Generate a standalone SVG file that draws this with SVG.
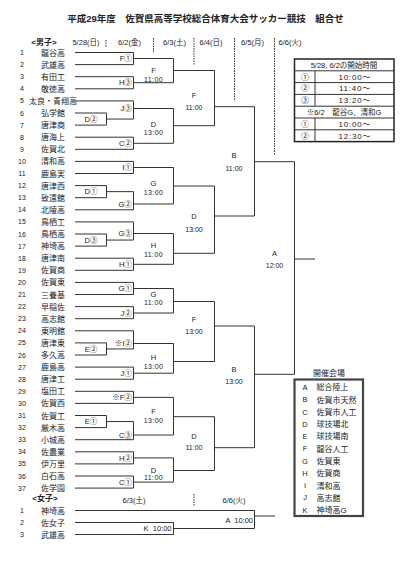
<svg xmlns="http://www.w3.org/2000/svg" width="405" height="565" viewBox="0 0 405 565">
<style>
text{font-family:"Liberation Sans","Noto Sans CJK JP",sans-serif;fill:#222}
.num{font-size:7px;text-anchor:middle}
.nm{font-size:8px;text-anchor:middle}
.hd{font-size:7.5px;text-anchor:middle}
.bold{font-weight:bold}
.l1{font-size:7.5px;text-anchor:middle}
.l2{font-size:7.5px;text-anchor:end}
.lc{font-size:7.5px;text-anchor:middle}
.tm{font-size:7px;text-anchor:middle}
.tm3{font-size:7px;text-anchor:middle;letter-spacing:0.4px}
.ln{stroke:#333;stroke-width:1;fill:none}
.dash{stroke:#333;stroke-width:1;stroke-dasharray:1.5 1;fill:none}
.tb{font-size:8px;text-anchor:middle}
.tt{font-size:8px;text-anchor:middle;letter-spacing:0.8px}
.lg{font-size:8px}
.lgl{font-size:7.5px;text-anchor:middle}
</style>
<rect width="405" height="565" fill="#fff"/>
<text class="bold" x="205.5" y="21.5" font-size="9.5" text-anchor="middle">平成29年度　佐賀県高等学校総合体育大会サッカー競技　組合せ</text>
<g id="headers">
<text class="nm bold" x="44" y="45">&lt;男子&gt;</text>
<text class="hd" x="86" y="44.5">5/28(日)</text>
<text class="hd" x="129.5" y="44.5">6/2(金)</text>
<text class="hd" x="174.5" y="44.5">6/3(土)</text>
<text class="hd" x="211" y="44.5">6/4(日)</text>
<text class="hd" x="252.5" y="44.5">6/5(月)</text>
<text class="hd" x="290" y="44.5">6/6(火)</text>
<text class="nm bold" x="45" y="501">&lt;女子&gt;</text>
<text class="hd" x="134" y="502.5">6/3(土)</text>
<text class="hd" x="234" y="502.5">6/6(火)</text>
</g>
<g id="separators">
<path class="dash" d="M106 40V47 M153.5 38V53 M194 38V65 M234.5 38V101 M274.5 38V155 M194 494V506"/>
</g>
<g id="connectors" class="ln">
<path d="M75 52.5H133.5 M75 64.6H133.5 M75 76.7H133.5 M75 88.8H133.5 M75 100.9H133.5 M75 113H106.5 M75 125.1H106.5 M75 137.2H133.5 M75 149.3H133.5 M75 161.4H133.5 M75 173.5H133.5 M75 185.6H106.5 M75 197.7H106.5 M75 209.8H133.5 M75 221.9H133.5 M75 234H106.5 M75 246.1H106.5 M75 258.2H133.5 M75 270.3H133.5 M75 282.4H133.5 M75 294.5H133.5 M75 306.6H133.5 M75 318.7H133.5 M75 330.8H133.5 M75 342.9H106.5 M75 355H106.5 M75 367.1H133.5 M75 379.2H133.5 M75 391.3H133.5 M75 403.4H133.5 M75 415.5H106.5 M75 427.6H106.5 M75 439.7H133.5 M75 451.8H133.5 M75 463.9H133.5 M75 476H133.5 M75 488.1H133.5"/>
<path d="M106.5 113V125.1 M106.5 119.05H133.5 M106.5 185.6V197.7 M106.5 191.65H133.5 M106.5 234V246.1 M106.5 240.05H133.5 M106.5 342.9V355 M106.5 348.95H133.5 M106.5 415.5V427.6 M106.5 421.55H133.5"/>
<path d="M133.5 52.5V64.6 M133.5 58.5H173.5 M133.5 76.7V88.8 M133.5 82.7H173.5 M133.5 100.9V119.05 M133.5 108.5H173.5 M133.5 137.2V149.3 M133.5 143.3H173.5 M133.5 161.4V173.5 M133.5 167.5H173.5 M133.5 191.65V209.8 M133.5 204H173.5 M133.5 221.9V240.05 M133.5 233.5H173.5 M133.5 258.2V270.3 M133.5 264.3H173.5 M133.5 282.4V294.5 M133.5 288.5H173.5 M133.5 306.6V318.7 M133.5 313H173.5 M133.5 330.8V348.95 M133.5 343.5H173.5 M133.5 367.1V379.2 M133.5 373.2H173.5 M133.5 391.3V403.4 M133.5 397.4H173.5 M133.5 421.55V439.7 M133.5 435H173.5 M133.5 451.8V463.9 M133.5 457.9H173.5 M133.5 476V488.1 M133.5 482.1H173.5"/>
<path d="M173.5 58.5V82.7 M173.5 70.5H214.5 M173.5 108.5V143.3 M173.5 125.7H214.5 M173.5 167.5V204 M173.5 186H214.5 M173.5 233.5V264.3 M173.5 253.3H214.5 M173.5 288.5V313 M173.5 301.5H214.5 M173.5 343.5V373.2 M173.5 361.5H214.5 M173.5 397.4V435 M173.5 416.7H214.5 M173.5 457.9V482.1 M173.5 470.5H214.5"/>
<path d="M214.5 70.5V125.7 M214.5 106.7H254.5 M214.5 186V253.3 M214.5 216H254.5 M214.5 301.5V361.5 M214.5 326H254.5 M214.5 416.7V470.5 M214.5 447.7H254.5"/>
<path d="M254.5 106.7V216 M254.5 161.7H294.5 M254.5 326V447.7 M254.5 374.3H294.5 M294.5 161.7V374.3 M294.5 259H315"/>
<path d="M75 510.5H254.5 M75 522.5H173.5 M75 534.5H173.5 M173.5 522.5V534.5 M173.5 528.5H254.5 M254.5 510.5V528.5 M254.5 516H275"/>
</g>
<g id="teams">
<g id="m1" transform="translate(0,52.5)"><text class="num" x="22" y="2.5">1</text><text class="nm" x="53" y="3">龍谷高</text></g>
<g id="m2" transform="translate(0,64.6)"><text class="num" x="22" y="2.5">2</text><text class="nm" x="53" y="3">武雄高</text></g>
<g id="m3" transform="translate(0,76.7)"><text class="num" x="22" y="2.5">3</text><text class="nm" x="53" y="3">有田工</text></g>
<g id="m4" transform="translate(0,88.8)"><text class="num" x="22" y="2.5">4</text><text class="nm" x="53" y="3">敬徳高</text></g>
<g id="m5" transform="translate(0,100.9)"><text class="num" x="22" y="2.5">5</text><text class="nm" x="53" y="3" font-size="7.3">太良・青翔高</text></g>
<g id="m6" transform="translate(0,113)"><text class="num" x="22" y="2.5">6</text><text class="nm" x="53" y="3">弘学館</text></g>
<g id="m7" transform="translate(0,125.1)"><text class="num" x="22" y="2.5">7</text><text class="nm" x="53" y="3">唐津商</text></g>
<g id="m8" transform="translate(0,137.2)"><text class="num" x="22" y="2.5">8</text><text class="nm" x="53" y="3">唐海上</text></g>
<g id="m9" transform="translate(0,149.3)"><text class="num" x="22" y="2.5">9</text><text class="nm" x="53" y="3">佐賀北</text></g>
<g id="m10" transform="translate(0,161.4)"><text class="num" x="22" y="2.5">10</text><text class="nm" x="53" y="3">清和高</text></g>
<g id="m11" transform="translate(0,173.5)"><text class="num" x="22" y="2.5">11</text><text class="nm" x="53" y="3">鹿島実</text></g>
<g id="m12" transform="translate(0,185.6)"><text class="num" x="22" y="2.5">12</text><text class="nm" x="53" y="3">唐津西</text></g>
<g id="m13" transform="translate(0,197.7)"><text class="num" x="22" y="2.5">13</text><text class="nm" x="53" y="3">致遠館</text></g>
<g id="m14" transform="translate(0,209.8)"><text class="num" x="22" y="2.5">14</text><text class="nm" x="53" y="3">北陵高</text></g>
<g id="m15" transform="translate(0,221.9)"><text class="num" x="22" y="2.5">15</text><text class="nm" x="53" y="3">鳥栖工</text></g>
<g id="m16" transform="translate(0,234)"><text class="num" x="22" y="2.5">16</text><text class="nm" x="53" y="3">鳥栖高</text></g>
<g id="m17" transform="translate(0,246.1)"><text class="num" x="22" y="2.5">17</text><text class="nm" x="53" y="3">神埼高</text></g>
<g id="m18" transform="translate(0,258.2)"><text class="num" x="22" y="2.5">18</text><text class="nm" x="53" y="3">唐津南</text></g>
<g id="m19" transform="translate(0,270.3)"><text class="num" x="22" y="2.5">19</text><text class="nm" x="53" y="3">佐賀商</text></g>
<g id="m20" transform="translate(0,282.4)"><text class="num" x="22" y="2.5">20</text><text class="nm" x="53" y="3">佐賀東</text></g>
<g id="m21" transform="translate(0,294.5)"><text class="num" x="22" y="2.5">21</text><text class="nm" x="53" y="3">三養基</text></g>
<g id="m22" transform="translate(0,306.6)"><text class="num" x="22" y="2.5">22</text><text class="nm" x="53" y="3">早稲佐</text></g>
<g id="m23" transform="translate(0,318.7)"><text class="num" x="22" y="2.5">23</text><text class="nm" x="53" y="3">高志館</text></g>
<g id="m24" transform="translate(0,330.8)"><text class="num" x="22" y="2.5">24</text><text class="nm" x="53" y="3">東明館</text></g>
<g id="m25" transform="translate(0,342.9)"><text class="num" x="22" y="2.5">25</text><text class="nm" x="53" y="3">唐津東</text></g>
<g id="m26" transform="translate(0,355)"><text class="num" x="22" y="2.5">26</text><text class="nm" x="53" y="3">多久高</text></g>
<g id="m27" transform="translate(0,367.1)"><text class="num" x="22" y="2.5">27</text><text class="nm" x="53" y="3">鹿島高</text></g>
<g id="m28" transform="translate(0,379.2)"><text class="num" x="22" y="2.5">28</text><text class="nm" x="53" y="3">唐津工</text></g>
<g id="m29" transform="translate(0,391.3)"><text class="num" x="22" y="2.5">29</text><text class="nm" x="53" y="3">塩田工</text></g>
<g id="m30" transform="translate(0,403.4)"><text class="num" x="22" y="2.5">30</text><text class="nm" x="53" y="3">佐賀西</text></g>
<g id="m31" transform="translate(0,415.5)"><text class="num" x="22" y="2.5">31</text><text class="nm" x="53" y="3">佐賀工</text></g>
<g id="m32" transform="translate(0,427.6)"><text class="num" x="22" y="2.5">32</text><text class="nm" x="53" y="3">厳木高</text></g>
<g id="m33" transform="translate(0,439.7)"><text class="num" x="22" y="2.5">33</text><text class="nm" x="53" y="3">小城高</text></g>
<g id="m34" transform="translate(0,451.8)"><text class="num" x="22" y="2.5">34</text><text class="nm" x="53" y="3">佐農業</text></g>
<g id="m35" transform="translate(0,463.9)"><text class="num" x="22" y="2.5">35</text><text class="nm" x="53" y="3">伊万里</text></g>
<g id="m36" transform="translate(0,476)"><text class="num" x="22" y="2.5">36</text><text class="nm" x="53" y="3">白石高</text></g>
<g id="m37" transform="translate(0,488.1)"><text class="num" x="22" y="2.5">37</text><text class="nm" x="53" y="3">佐学園</text></g>
<g id="w1" transform="translate(0,510.5)"><text class="num" x="22" y="2.5">1</text><text class="nm" x="53" y="3">神埼高</text></g>
<g id="w2" transform="translate(0,522.5)"><text class="num" x="22" y="2.5">2</text><text class="nm" x="53" y="3">佐女子</text></g>
<g id="w3" transform="translate(0,534.5)"><text class="num" x="22" y="2.5">3</text><text class="nm" x="53" y="3">武雄高</text></g>
</g>
<g id="matches">
<g id="r1-D2"><text class="l1" x="91" y="121.8">D②</text></g>
<g id="r1-D1"><text class="l1" x="91" y="194.4">D①</text></g>
<g id="r1-D3"><text class="l1" x="91" y="242.8">D③</text></g>
<g id="r1-E2"><text class="l1" x="91" y="351.7">E②</text></g>
<g id="r1-E1"><text class="l1" x="91" y="424.3">E①</text></g>
<g id="r2-F1"><text class="l2" x="131.8" y="61.2">F①</text></g>
<g id="r2-H3"><text class="l2" x="131.8" y="85.4">H③</text></g>
<g id="r2-J3"><text class="l2" x="131.8" y="111.2">J③</text></g>
<g id="r2-C2"><text class="l2" x="131.8" y="146">C②</text></g>
<g id="r2-I1"><text class="l2" x="131.8" y="170.2">I①</text></g>
<g id="r2-G2"><text class="l2" x="131.8" y="206.7">G②</text></g>
<g id="r2-G3"><text class="l2" x="131.8" y="236.2">G③</text></g>
<g id="r2-H1"><text class="l2" x="131.8" y="267">H①</text></g>
<g id="r2-G1"><text class="l2" x="131.8" y="291.2">G①</text></g>
<g id="r2-J2"><text class="l2" x="131.8" y="315.7">J②</text></g>
<g id="r2-I2"><text class="l2" x="131.8" y="346.2">※I②</text></g>
<g id="r2-J1"><text class="l2" x="131.8" y="375.9">J①</text></g>
<g id="r2-F2"><text class="l2" x="131.8" y="400.1">※F②</text></g>
<g id="r2-C3"><text class="l2" x="131.8" y="437.7">C③</text></g>
<g id="r2-H2"><text class="l2" x="131.8" y="460.6">H②</text></g>
<g id="r2-C1"><text class="l2" x="131.8" y="484.8">C①</text></g>
<g id="r3-F11"><text class="lc" x="153.5" y="72.7">F</text><text class="tm3" x="153.5" y="81.5">11:00</text></g>
<g id="r3-D13"><text class="lc" x="153.5" y="127">D</text><text class="tm3" x="153.5" y="135.2">13:00</text></g>
<g id="r3-G13"><text class="lc" x="153.5" y="186">G</text><text class="tm3" x="153.5" y="195.2">13:00</text></g>
<g id="r3-H11"><text class="lc" x="153.5" y="247.7">H</text><text class="tm3" x="153.5" y="256.8">11:00</text></g>
<g id="r3-G11"><text class="lc" x="153.5" y="296.7">G</text><text class="tm3" x="153.5" y="305.2">11:00</text></g>
<g id="r3-H13"><text class="lc" x="153.5" y="360.4">H</text><text class="tm3" x="153.5" y="368.5">13:00</text></g>
<g id="r3-F13"><text class="lc" x="153.5" y="414.4">F</text><text class="tm3" x="153.5" y="423.2">13:00</text></g>
<g id="r3-D11"><text class="lc" x="153.5" y="472.7">D</text><text class="tm3" x="153.5" y="480.2">11:00</text></g>
<g id="r4-F11"><text class="lc" x="194" y="97.7">F</text><text class="tm" x="194" y="109.8">11:00</text></g>
<g id="r4-D13"><text class="lc" x="194" y="219.4">D</text><text class="tm" x="194" y="231.5">13:00</text></g>
<g id="r4-F13"><text class="lc" x="194" y="322">F</text><text class="tm" x="194" y="334.2">13:00</text></g>
<g id="r4-D11"><text class="lc" x="194" y="438.7">D</text><text class="tm" x="194" y="450.2">11:00</text></g>
<g id="r5-B11"><text class="lc" x="234" y="157.7">B</text><text class="tm" x="234" y="170.5">11:00</text></g>
<g id="r5-B13"><text class="lc" x="234" y="372">B</text><text class="tm" x="234" y="384.2">13:00</text></g>
<g id="final-A"><text class="lc" x="274.5" y="256">A</text><text class="tm" x="274.5" y="268.2">12:00</text></g>
<g id="w-K"><text class="l2" x="171.5" y="531.1" xml:space="preserve">K  10:00</text></g>
<g id="w-A"><text class="l2" x="253" y="522.6" xml:space="preserve">A  10:00</text></g>
</g>
<g id="timetable">
<rect x="294.5" y="59" width="99.5" height="82.6" fill="none" stroke="#222" stroke-width="1.5"/>
<path class="ln" d="M294.5 70.8H394 M294.5 82.6H394 M294.5 94.4H394 M294.5 106.2H394 M294.5 118H394 M294.5 129.8H394 M315 70.8V106.2 M315 118V141.6"/>
<text class="hd" x="344" y="67.7">5/28, 6/2の開始時間</text>
<text class="tb" x="305" y="79.5">①</text><text class="tt" x="355" y="79.5">10:00～</text>
<text class="tb" x="305" y="91.3">②</text><text class="tt" x="355" y="91.3">11:40～</text>
<text class="tb" x="305" y="103.1">③</text><text class="tt" x="355" y="103.1">13:20～</text>
<text class="hd" x="344" y="114.9">※6/2　龍谷G、清和G</text>
<text class="tb" x="305" y="126.7">①</text><text class="tt" x="355" y="126.7">10:00～</text>
<text class="tb" x="305" y="138.5">②</text><text class="tt" x="355" y="138.5">12:30～</text>
</g>
<g id="venues">
<text class="nm" x="329" y="376">開催会場</text>
<rect x="294.5" y="379.5" width="68.5" height="136.5" fill="none" stroke="#444" stroke-width="2.2"/>
<text class="lgl" x="305" y="390">A</text><text class="lg" x="316.5" y="390.3">総合陸上</text>
<text class="lgl" x="305" y="402.3">B</text><text class="lg" x="316.5" y="402.6">佐賀市天然</text>
<text class="lgl" x="305" y="414.5">C</text><text class="lg" x="316.5" y="414.8">佐賀市人工</text>
<text class="lgl" x="305" y="426.8">D</text><text class="lg" x="316.5" y="427.1">球技場北</text>
<text class="lgl" x="305" y="439.1">E</text><text class="lg" x="316.5" y="439.4">球技場南</text>
<text class="lgl" x="305" y="451.3">F</text><text class="lg" x="316.5" y="451.6">龍谷人工</text>
<text class="lgl" x="305" y="463.6">G</text><text class="lg" x="316.5" y="463.9">佐賀東</text>
<text class="lgl" x="305" y="475.9">H</text><text class="lg" x="316.5" y="476.2">佐賀商</text>
<text class="lgl" x="305" y="488.2">I</text><text class="lg" x="316.5" y="488.5">清和高</text>
<text class="lgl" x="305" y="500.4">J</text><text class="lg" x="316.5" y="500.7">高志館</text>
<text class="lgl" x="305" y="512.7">K</text><text class="lg" x="316.5" y="513">神埼高G</text>
</g>
</svg>
